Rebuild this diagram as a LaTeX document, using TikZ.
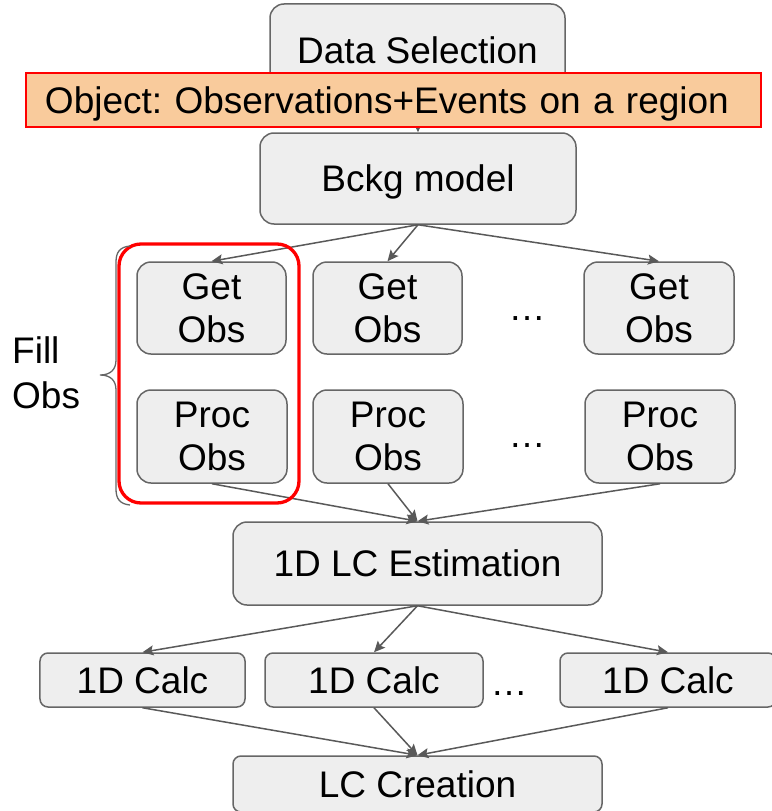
\documentclass[tikz,border=0pt]{standalone}
\usepackage{fontspec}
\setmainfont{Liberation Sans}
\usetikzlibrary{arrows.meta}
\definecolor{boxfill}{HTML}{EEEEEE}
\definecolor{boxline}{HTML}{666666}
\definecolor{linkgrey}{HTML}{595959}
\definecolor{notefill}{HTML}{F9CB9C}
\definecolor{alertred}{HTML}{FF0000}
\newcommand{\diagfont}{\fontsize{37bp}{43bp}\selectfont}
\frenchspacing

\begin{document}
\begin{tikzpicture}[x=1bp,y=-1bp,
  stage/.style={draw=boxline, fill=boxfill, line width=1.5bp, rounded corners=14bp,
    inner sep=0pt, font=\diagfont, align=center},
  slim/.style={rounded corners=8bp},
  oneline/.style={text height=26.5bp, text depth=0bp},
  link/.style={draw=linkgrey, line width=1.5bp, -{Stealth[length=11bp,width=10bp,inset=2bp]}},
  plain/.style={font=\diagfont, inner sep=0pt}]
\useasboundingbox (0,0) rectangle (772,811);

% pipeline head
\node[stage, oneline, minimum width=295bp, minimum height=92bp] (ds) at (417.5,50) {Data Selection};
\node[stage, oneline, minimum width=316bp, minimum height=91bp] (bckg) at (418,178.5) {Bckg model};
\draw[link] (ds.south) -- (bckg.north);

% object banner laid over the first step
\node[draw=alertred, fill=notefill, line width=2bp, inner xsep=19bp, inner ysep=0pt,
  text width=697bp, align=left, minimum height=54bp, oneline, font=\diagfont]
  (obj) at (393.5,100) {Object: Observations+Events on a region};

% observation workers
\node[stage, minimum width=149bp, minimum height=92bp] (get1) at (211.5,308) {Get\\Obs};
\node[stage, minimum width=149bp, minimum height=92bp] (get2) at (387.5,308) {Get\\Obs};
\node[stage, minimum width=150bp, minimum height=92bp] (get3) at (659,308) {Get\\Obs};
\node[stage, minimum width=150bp, minimum height=93bp] (proc1) at (212,436.5) {Proc\\Obs};
\node[stage, minimum width=150bp, minimum height=93bp] (proc2) at (388,436.5) {Proc\\Obs};
\node[stage, minimum width=150bp, minimum height=93bp] (proc3) at (660,436.5) {Proc\\Obs};
\node[plain, anchor=base] (dotsget) at (527,320) {…};
\node[plain, anchor=base] (dotsproc) at (527,447) {…};

% estimation and per-dimension calculations
\node[stage, oneline, minimum width=369bp, minimum height=83bp] (est) at (417.5,563.5) {1D LC Estimation};
\node[stage, slim, oneline, minimum width=205bp, minimum height=54bp] (calc1) at (142.5,680) {1D Calc};
\node[stage, slim, oneline, minimum width=218bp, minimum height=54bp] (calc2) at (374,680) {1D Calc};
\node[stage, slim, oneline, minimum width=216bp, minimum height=54bp] (calc3) at (668,680) {1D Calc};
\node[plain, anchor=base] (dotscalc) at (509,695) {…};
\node[stage, slim, oneline, minimum width=369bp, minimum height=56bp] (lcc) at (417.5,784) {LC Creation};

% connectors
\foreach \g in {get1,get2,get3} \draw[link] (bckg.south) -- (\g.north);
\foreach \p in {proc1,proc2,proc3} \draw[link] (\p.south) -- (est.north);
\foreach \c in {calc1,calc2,calc3} \draw[link] (est.south) -- (\c.north);
\foreach \c in {calc1,calc2,calc3} \draw[link] (\c.south) -- (lcc.north);

% highlighted worker column
\node[draw=alertred, line width=3.3bp, rounded corners=22bp, inner sep=0pt,
  minimum width=180bp, minimum height=259bp] (worker) at (209,373.5) {};

% brace and its label
\draw[boxline, line width=1.3bp]
  (130,246) .. controls (120,247) and (116,252) .. (116,262) -- (116,360)
  .. controls (116,370) and (110,375) .. (100,375)
  .. controls (110,375) and (116,380) .. (116,390) -- (116,489)
  .. controls (116,499) and (120,504) .. (130,505);
\node[plain, align=left, anchor=west] (fillobs) at (12,373) {Fill\\[2bp]Obs};
\end{tikzpicture}
\end{document}
